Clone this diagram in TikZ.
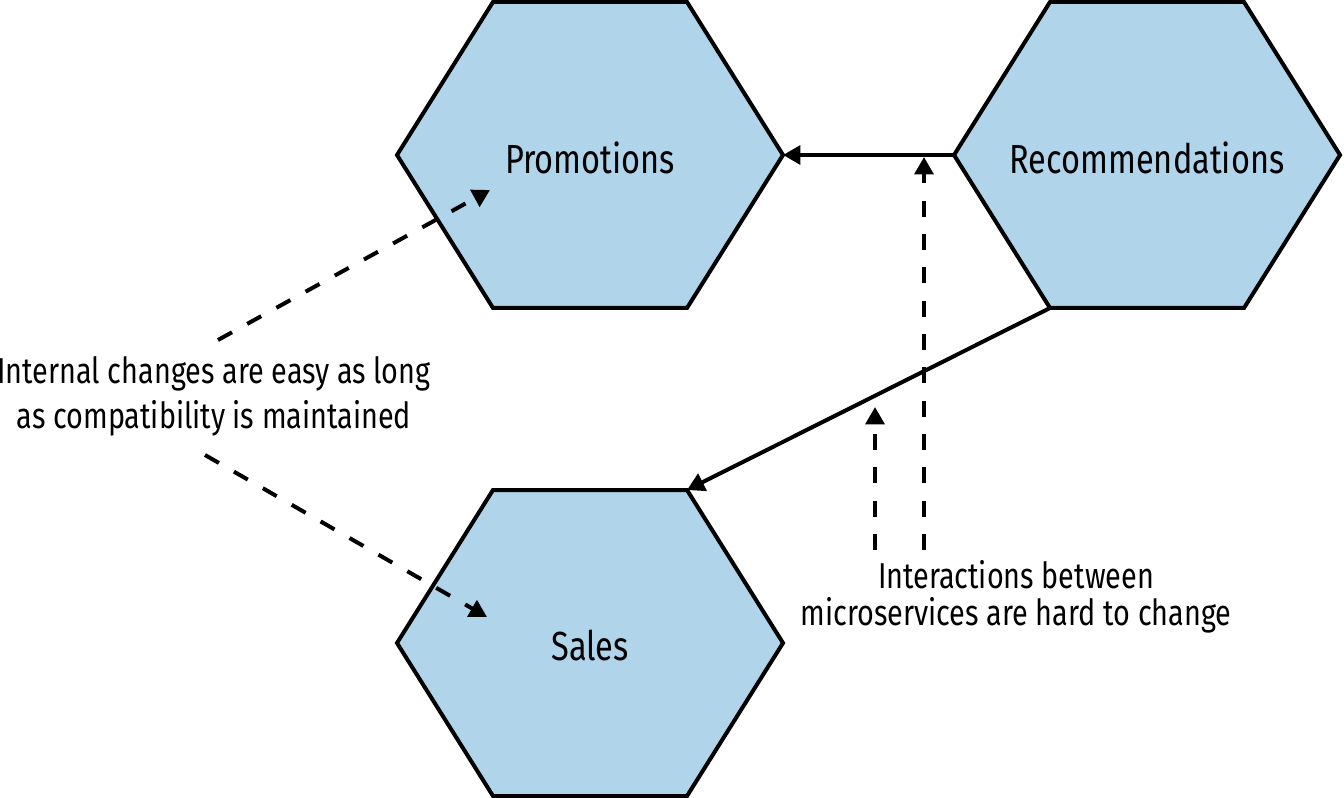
\documentclass[tikz,border=0pt]{standalone}
\usepackage{fontspec}
\setmainfont[FakeStretch=0.8]{Fira Sans}
\usepackage{xcolor}
\usetikzlibrary{arrows.meta}
\definecolor{servicefill}{RGB}{176,212,234}
\tikzset{
  service/.style={draw=black, fill=servicefill, line width=3pt, line join=miter},
  servicetext/.style={font=\fontsize{30.5}{36}\selectfont},
  note/.style={font=\fontsize{27}{34}\selectfont, align=center},
  tightnote/.style={note, font=\fontsize{27}{28}\selectfont},
  call/.style={line width=3pt, -{Triangle[length=13pt,width=14pt]}},
  hint/.style={call, dash pattern=on 12pt off 13pt}
}
\newcommand{\hexservice}[3]{%
  \coordinate (#1) at (#2);
  \draw[service] ([shift={(-193,0)}]#1) coordinate (#1-w)
    -- ([shift={(-97,-153)}]#1) coordinate (#1-nw)
    -- ([shift={(97,-153)}]#1) coordinate (#1-ne)
    -- ([shift={(193,0)}]#1) coordinate (#1-e)
    -- ([shift={(97,153)}]#1) coordinate (#1-se)
    -- ([shift={(-97,153)}]#1) coordinate (#1-sw) -- cycle;
  \node[servicetext] (#1-label) at ([yshift=-2]#1) {#3};
}

\begin{document}
\begin{tikzpicture}[x=0.75pt, y=-0.75pt]
\useasboundingbox (0,0) rectangle (1344,798);

\hexservice{promo}{590,155}{Promotions}
\hexservice{recom}{1147,155}{Recommendations}
\hexservice{sales}{590,643}{Sales}

\draw[call] (recom-w) -- (promo-e);
\draw[call] (recom-sw) -- (sales-ne);

\node[note] (internal) at (214,396) {Internal changes are easy as long\\as compatibility is maintained};
\node[tightnote] (interact) at (1016,597) {Interactions between\\microservices are hard to change};

\coordinate (intup) at (218,340);
\coordinate (intdown) at (205,455);
\coordinate (promoin) at (490,190);
\coordinate (salesin) at (487,617);
\draw[hint] (intup) -- (promoin);
\draw[hint] (intdown) -- (salesin);

\coordinate (actleft) at (875,550);
\coordinate (actright) at (924,550);
\coordinate (actleftend) at (875,407);
\coordinate (actrightend) at (924,157);
\draw[hint] (actleft) -- (actleftend);
\draw[hint] (actright) -- (actrightend);
\end{tikzpicture}
\end{document}
